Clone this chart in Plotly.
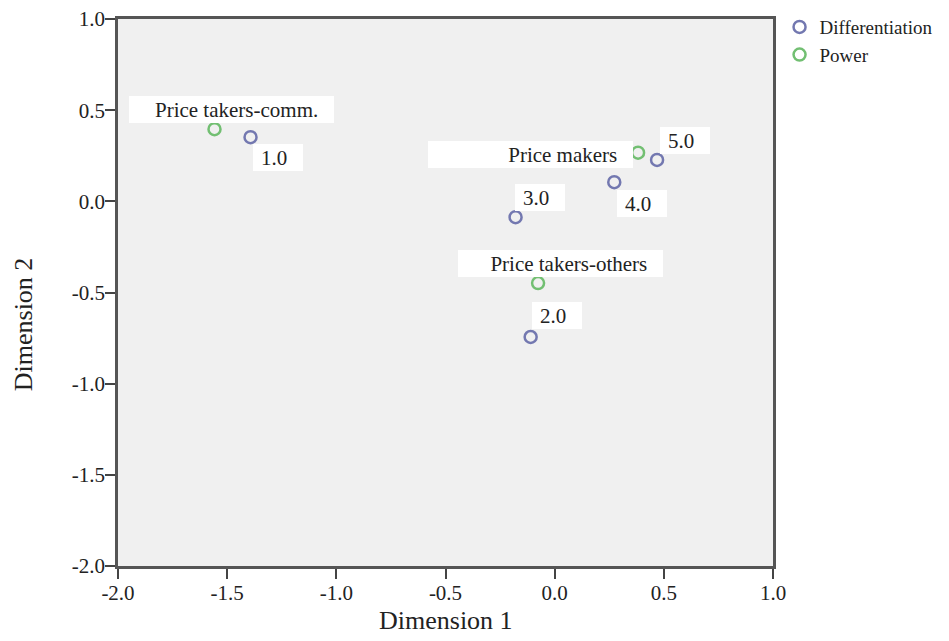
import plotly.graph_objects as go

# ---- data ----
diff_labels = ["1.0", "2.0", "3.0", "4.0", "5.0"]
diff_x = [-1.393, -0.110, -0.179, 0.273, 0.469]
diff_y = [0.352, -0.744, -0.087, 0.105, 0.227]

power_labels = ["Price takers-comm.", "Price takers-others", "Price makers"]
power_x = [-1.558, -0.076, 0.382]
power_y = [0.396, -0.448, 0.267]

tick_vals = [-2.0, -1.5, -1.0, -0.5, 0.0, 0.5, 1.0]
tick_text = ["-2.0", "-1.5", "-1.0", "-0.5", "0.0", "0.5", "1.0"]

# ---- label placement (pixel offsets of white label boxes from their points) ----
diff_offsets = [(27, -20), (26, 21), (24, 20), (28, -21), (28, 19)]
power_offsets = [(17, 20), (22, 20), (-108, -2)]
diff_box_w = 50
power_box_w = 205

FONT = "Liberation Serif, Times New Roman, serif"
C_DIFF = "#7378b0"
C_POW = "#72bf72"

fig = go.Figure()
fig.add_trace(go.Scatter(
    x=diff_x, y=diff_y, mode="markers", name="Differentiation",
    marker=dict(symbol="circle-open", size=12, color=C_DIFF, line=dict(width=2.5, color=C_DIFF)),
))
fig.add_trace(go.Scatter(
    x=power_x, y=power_y, mode="markers", name="Power",
    marker=dict(symbol="circle-open", size=12, color=C_POW, line=dict(width=2.5, color=C_POW)),
))

annotations = []
def add_label(x, y, text, off, w):
    annotations.append(dict(
        x=x, y=y, xref="x", yref="y", text=text + "&nbsp;&nbsp;&nbsp;",
        showarrow=False, xanchor="center", yanchor="middle",
        xshift=off[0], yshift=off[1], width=w, height=27, align="right",
        bgcolor="white", borderpad=0, borderwidth=0,
        font=dict(family=FONT, size=21, color="#222"),
    ))

for lx, ly, t, o in zip(diff_x, diff_y, diff_labels, diff_offsets):
    add_label(lx, ly, t, o, diff_box_w)
for lx, ly, t, o in zip(power_x, power_y, power_labels, power_offsets):
    add_label(lx, ly, t, o, power_box_w)

# axis titles
annotations.append(dict(text="Dimension 1", xref="paper", yref="paper", x=0.5, y=-0.1005,
                        xanchor="center", yanchor="middle", showarrow=False,
                        font=dict(family=FONT, size=26, color="#222")))
annotations.append(dict(text="Dimension 2", xref="paper", yref="paper", x=-0.145, y=0.442,
                        xanchor="center", yanchor="middle", showarrow=False, textangle=-90,
                        font=dict(family=FONT, size=26, color="#222")))

axis_common = dict(
    tickvals=tick_vals, ticktext=tick_text, showgrid=False, zeroline=False,
    showline=True, linecolor="#555", linewidth=2.5, mirror=True,
    ticks="outside", ticklen=10, tickwidth=2, tickcolor="#444",
    ticklabelstandoff=-4, ticklabeloverflow="allow",
    tickfont=dict(family=FONT, size=21, color="#222"),
)

# page body adds an 8px offset, so the figure is 8px smaller than the window
fig.update_layout(
    width=941, height=633,
    margin=dict(l=110, r=176, t=11, b=75, autoexpand=False),
    paper_bgcolor="white", plot_bgcolor="#f0f0f0",
    xaxis=dict(range=[-2.0, 1.0], **axis_common),
    yaxis=dict(range=[-2.0, 1.0], **axis_common),
    showlegend=True,
    legend=dict(x=1.01, y=1.02, xanchor="left", yanchor="top",
                bgcolor="rgba(0,0,0,0)", font=dict(family=FONT, size=19, color="#222"),
                tracegroupgap=0, itemwidth=30),
    annotations=annotations,
)

fig.write_html("out.html")
